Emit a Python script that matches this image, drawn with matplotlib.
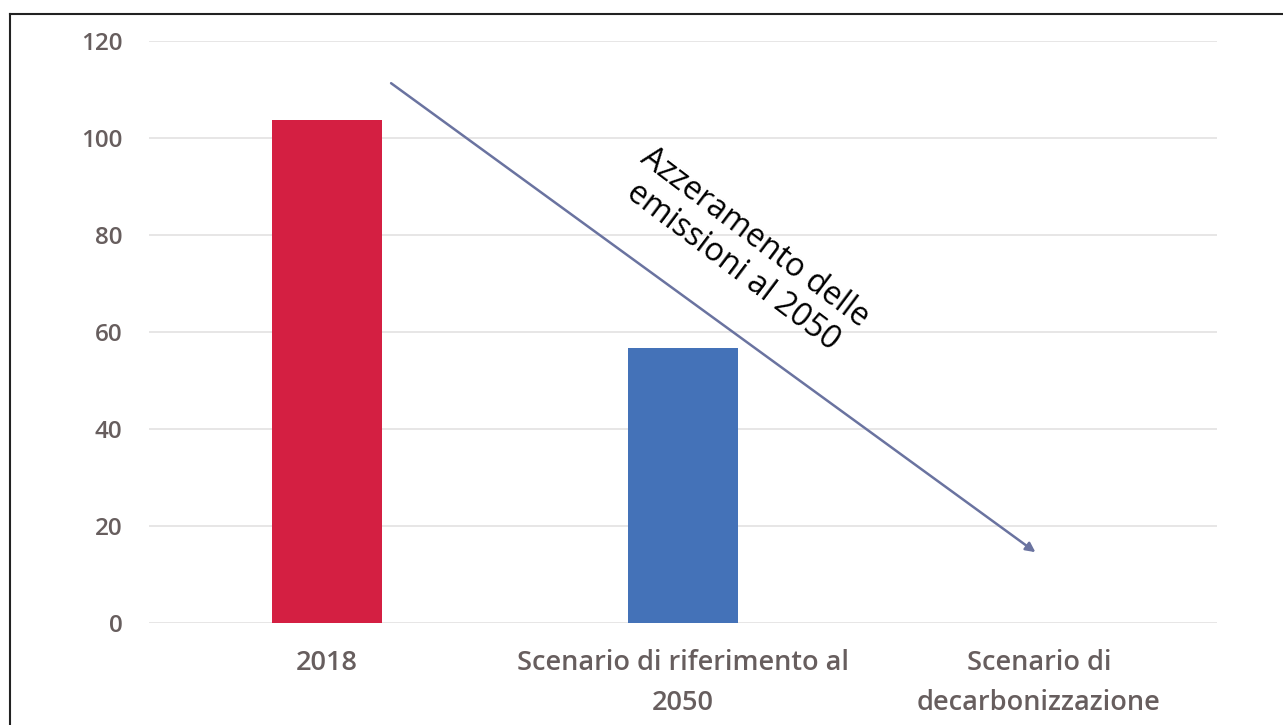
import matplotlib
matplotlib.use("Agg")
import matplotlib.pyplot as plt
from matplotlib.lines import Line2D

# emissions by scenario
categorie = ["2018", "Scenario di riferimento al\n2050", "Scenario di\ndecarbonizzazione"]
valori = [103.7, 56.7, 0]
colori = ["#d41f42", "#4472b8", "#4472b8"]
y_ticks = [0, 20, 40, 60, 80, 100, 120]

# trend arrow (category index, value)
freccia_da = (0.18, 111.3)
freccia_a = (1.99, 14.6)

plt.rcParams['font.family'] = ['Open Sans', 'DejaVu Sans']

fig = plt.figure(figsize=(12.83, 7.25), dpi=100)
ax = fig.add_axes([149 / 1283, 1 - 623 / 725, (1217 - 149) / 1283, (623 - 41) / 725])

ax.bar(range(len(categorie)), valori, width=0.31, color=colori, zorder=3)

ax.set_xlim(-0.5, len(categorie) - 0.5)
ax.set_ylim(0, 120)
ax.set_yticks(y_ticks)
ax.set_xticks(range(len(categorie)))
ax.set_xticklabels(categorie, linespacing=1.55)
ax.tick_params(axis='both', length=0, labelcolor="#675e5e")
ax.tick_params(axis='x', pad=19, labelsize=19.5)
ax.tick_params(axis='y', pad=19, labelsize=17.5)
for lab in ax.get_xticklabels() + ax.get_yticklabels():
    lab.set_fontweight('semibold')

ax.grid(axis='y', color="#e3e1e1", linewidth=1.2, zorder=0)
for s in ax.spines.values():
    s.set_visible(False)

ax.annotate("", xy=freccia_a, xytext=freccia_da,
            arrowprops=dict(arrowstyle="-|>", color="#6a73a0", lw=1.8,
                            mutation_scale=14, shrinkA=0, shrinkB=0),
            zorder=4)
ax.text(1.17, 76.5, "Azzeramento delle\nemissioni al 2050", rotation=-37,
        rotation_mode='anchor', ha='center', va='center', fontsize=23,
        color="black", linespacing=1.12, zorder=5)

# frame around the figure (top and left only)
fig.add_artist(Line2D([10 / 1283, 10 / 1283], [0, 1 - 14 / 725], color="#222222", lw=1.5))
fig.add_artist(Line2D([10 / 1283, 1], [1 - 14 / 725, 1 - 14 / 725], color="#222222", lw=1.5))

fig.savefig("out.png", dpi=100)
